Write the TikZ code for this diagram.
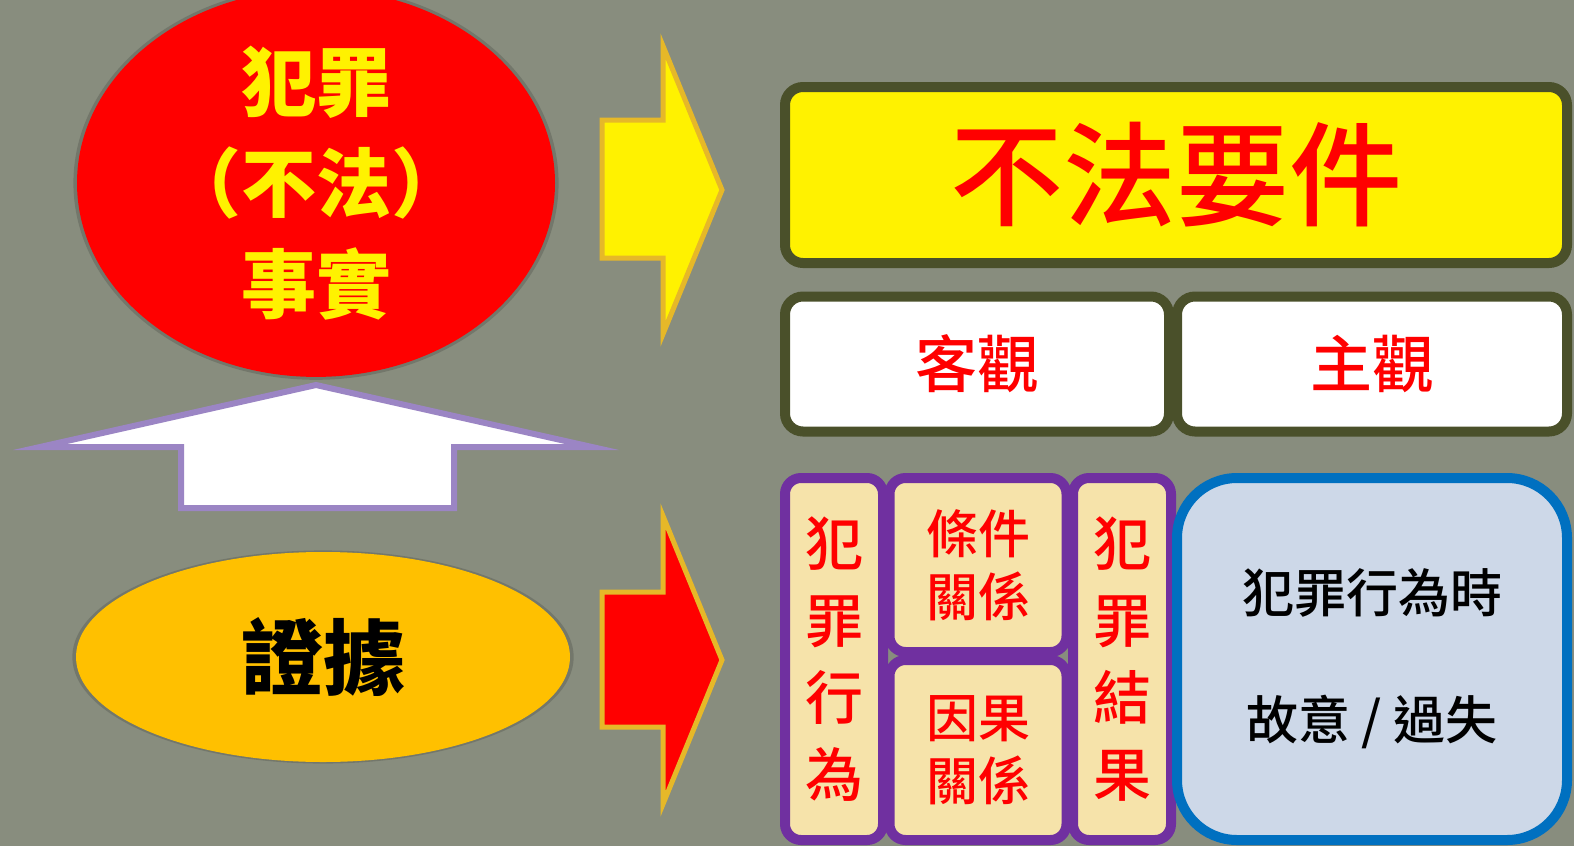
\documentclass[tikz,border=0pt]{standalone}
\usepackage{fontspec}
\setmainfont{Noto Sans CJK TC}
\newfontfamily\cjkmedium{Noto Sans CJK TC}[UprightFont=* Medium]
\usetikzlibrary{shapes.geometric,shadows}

\definecolor{slate}{RGB}{136,141,126}
\definecolor{olivedark}{RGB}{74,80,42}
\definecolor{gold}{RGB}{230,184,40}
\definecolor{lavender}{RGB}{155,133,196}
\definecolor{amber}{RGB}{255,192,0}
\definecolor{plum}{RGB}{112,48,160}
\definecolor{wheat}{RGB}{246,227,170}
\definecolor{seablue}{RGB}{0,112,192}
\definecolor{mist}{RGB}{205,216,232}

\newcommand\sizept[2]{\fontsize{#1}{#2}\selectfont}

\begin{document}
\begin{tikzpicture}[x=1pt,y=-1pt,
    lawbox/.style={rectangle, rounded corners=18pt, line width=10pt, draw=olivedark, inner sep=0pt, text=red},
    partbox/.style={rectangle, rounded corners=16pt, line width=10pt, draw=plum, fill=wheat, inner sep=0pt, text=red, align=center},
    blockarrow/.style={line width=5pt, draw=gold},
    haze/.style={general shadow={fill=black, opacity=0.15, shadow scale=1.015}}]

        \fill[slate] (0,0) rectangle (1574,846);
        \useasboundingbox (0,0) rectangle (1574,846);

        % left column
        \node[ellipse, haze, fill=red, inner sep=0pt, minimum width=478pt, minimum height=346pt,
              text=yellow, align=center, font=\sizept{75pt}{101pt}\bfseries] (fact) at (316,183) {犯罪\\（不法）\\事實};
        \node[ellipse, haze, fill=amber, inner sep=0pt, minimum width=494pt, minimum height=210pt,
              font=\sizept{82pt}{90pt}\bfseries] (proof) at (323,657) {證據};

        \draw[line width=6pt, draw=lavender, fill=white] (316,385) -- (592,447) -- (454,447) -- (454,508)
              -- (181,508) -- (181,447) -- (40,447) -- cycle;
        \draw[blockarrow, fill=yellow] (602,120) -- (663,120) -- (663,46) -- (722,190) -- (663,334)
              -- (663,258) -- (602,258) -- cycle;
        \draw[blockarrow, fill=red] (602,592) -- (663,592) -- (663,516) -- (722,660) -- (663,804)
              -- (663,727) -- (602,727) -- cycle;

        % right column
        \node[lawbox, fill=yellow, minimum width=782pt, minimum height=176pt,
              font=\sizept{113pt}{120pt}\cjkmedium] (wrongness) at (1176,175) {不法要件};
        \node[lawbox, fill=white, minimum width=384pt, minimum height=135pt,
              font=\sizept{62pt}{70pt}\cjkmedium] (objective) at (977,364) {客觀};
        \node[lawbox, fill=white, minimum width=390pt, minimum height=135pt,
              font=\sizept{62pt}{70pt}\cjkmedium] (subjective) at (1372,364) {主觀};

        \node[partbox, minimum width=98pt, minimum height=362pt,
              font=\sizept{58pt}{77pt}\cjkmedium] (act) at (834,659) {犯\\罪\\行\\為};
        \node[partbox, minimum width=177pt, minimum height=174pt,
              font=\sizept{52pt}{63pt}\cjkmedium] (condition) at (978,565) {條件\\關係};
        \node[partbox, minimum width=177pt, minimum height=180pt,
              font=\sizept{52pt}{63pt}\cjkmedium] (causation) at (978,750) {因果\\關係};
        \node[partbox, minimum width=98pt, minimum height=362pt,
              font=\sizept{58pt}{77pt}\cjkmedium] (result) at (1122,659) {犯\\罪\\結\\果};
        \node[rectangle, rounded corners=60pt, line width=10pt, draw=seablue, fill=mist, inner sep=0pt,
              minimum width=390pt, minimum height=362pt, align=center,
              font=\sizept{52pt}{127pt}\cjkmedium] (mindset) at (1372,659) {犯罪行為時\\故意 / 過失};

    \end{tikzpicture}
\end{document}
